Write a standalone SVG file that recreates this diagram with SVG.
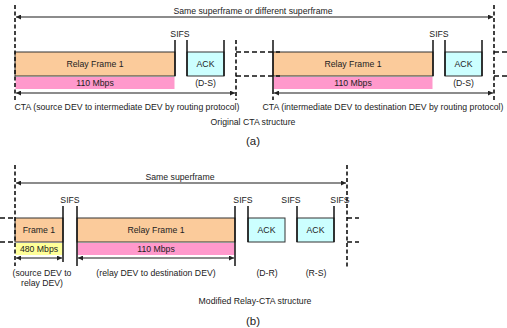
<svg xmlns="http://www.w3.org/2000/svg" width="507" height="328" viewBox="0 0 507 328">
<defs>
<marker id="ah" viewBox="0 0 6 6" refX="6" refY="3" markerWidth="5" markerHeight="5" orient="auto-start-reverse" markerUnits="userSpaceOnUse">
<path d="M0,0 L6,3 L0,6 z" fill="#222"/>
</marker>
<style>
text{font-family:"Liberation Sans",Arial,sans-serif;font-size:8.7px;fill:#222;text-anchor:middle}
.big{font-size:11.5px}
.fr{fill:#FBCB9B;stroke:#333;stroke-width:1}
.pk{fill:#FF99CC}
.ye{fill:#FFFF99}
.ak{fill:#CCFFFF;stroke:#333;stroke-width:1}
.vl{stroke:#111;stroke-width:1.5;fill:none}
.dl{stroke:#111;stroke-width:1.6;fill:none;stroke-dasharray:4,2.5}
.dh{stroke:#111;stroke-width:1.3;fill:none;stroke-dasharray:5,3}
.ar{stroke:#666;stroke-width:1.5;fill:none;marker-start:url(#ah);marker-end:url(#ah)}
</style>
</defs>

<!-- (a) -->
<g id="a-frame1">
<rect class="fr" x="15" y="52" width="160" height="24"/>
<rect class="pk" x="15.5" y="77" width="159" height="12"/>
<text x="95" y="67">Relay Frame 1</text>
<text x="95" y="86">110 Mbps</text>
</g>
<g id="a-ack1">
<rect class="ak" x="187" y="52" width="37" height="24"/>
<text x="205.5" y="67">ACK</text>
<text x="205.5" y="86">(D-S)</text>
</g>
<g id="a-frame2">
<rect class="fr" x="273" y="52" width="160" height="24"/>
<rect class="pk" x="273.5" y="77" width="159" height="12"/>
<text x="353" y="67">Relay Frame 1</text>
<text x="353" y="86">110 Mbps</text>
</g>
<g id="a-ack2">
<rect class="ak" x="445" y="52" width="37" height="24"/>
<text x="463.5" y="67">ACK</text>
<text x="463.5" y="86">(D-S)</text>
</g>
<g id="a-labels">
<text x="253" y="14">Same superframe or different superframe</text>
<text x="180" y="37">SIFS</text>
<text x="439" y="37">SIFS</text>
<text x="127" y="110">CTA (source DEV to intermediate DEV by routing protocol)</text>
<text x="383" y="110">CTA (intermediate DEV to destination DEV by routing protocol)</text>
<text x="253" y="125">Original CTA structure</text>
<text class="big" x="253" y="145">(a)</text>
</g>

<!-- (b) -->
<g id="b-frame1">
<rect class="fr" x="15" y="218" width="48" height="24"/>
<rect class="ye" x="15.5" y="243" width="47" height="12"/>
<text x="39" y="233">Frame 1</text>
<text x="39" y="252">480 Mbps</text>
<text x="42" y="276">(source DEV to</text>
<text x="42" y="286">relay DEV)</text>
</g>
<g id="b-relay">
<rect class="fr" x="77" y="218" width="158" height="24"/>
<rect class="pk" x="77.5" y="243" width="157" height="12"/>
<text x="156" y="233">Relay Frame 1</text>
<text x="156" y="252">110 Mbps</text>
<text x="156" y="276">(relay DEV to destination DEV)</text>
</g>
<g id="b-ack1">
<rect class="ak" x="248" y="218" width="37" height="24"/>
<text x="266.5" y="233">ACK</text>
<text x="267" y="276">(D-R)</text>
</g>
<g id="b-ack2">
<rect class="ak" x="297" y="218" width="37" height="24"/>
<text x="315.5" y="233">ACK</text>
<text x="316" y="276">(R-S)</text>
</g>
<g id="b-labels">
<text x="180" y="180">Same superframe</text>
<text x="70" y="203">SIFS</text>
<text x="243" y="203">SIFS</text>
<text x="291" y="203">SIFS</text>
<text x="340" y="203">SIFS</text>
<text x="255" y="304">Modified Relay-CTA structure</text>
<text class="big" x="253" y="325">(b)</text>
</g>

<g id="connectors">
<!-- (a) boundaries -->
<line class="dl" x1="15" y1="5" x2="15" y2="100"/>
<line class="vl" x1="175" y1="40" x2="175" y2="76"/>
<polyline class="vl" points="187,40 187,76"/>
<polyline class="vl" points="224,40 224,76"/>
<line class="dl" x1="236" y1="40" x2="236" y2="100"/>
<line class="dh" x1="236" y1="52" x2="280" y2="52"/>
<line class="dh" x1="236" y1="76" x2="280" y2="76"/>
<line class="vl" x1="273" y1="40" x2="273" y2="90"/>
<line class="dl" x1="273" y1="90" x2="273" y2="100"/>
<line class="vl" x1="433" y1="40" x2="433" y2="76"/>
<polyline class="vl" points="445,40 445,76"/>
<polyline class="vl" points="482,40 482,76"/>
<line class="dl" x1="494" y1="5" x2="494" y2="100"/>
<line class="dh" x1="494" y1="52" x2="507" y2="52"/>
<line class="dh" x1="494" y1="76" x2="507" y2="76"/>
<line class="ar" x1="16" y1="17" x2="493" y2="17"/>
<line class="ar" x1="16" y1="93" x2="235" y2="93"/>
<line class="ar" x1="274" y1="93" x2="493" y2="93"/>

<!-- (b) boundaries -->
<line class="dl" x1="15" y1="165" x2="15" y2="266"/>
<line class="dh" x1="0" y1="218" x2="15" y2="218"/>
<line class="dh" x1="0" y1="242" x2="15" y2="242"/>
<line class="vl" x1="63" y1="206" x2="63" y2="262"/>
<line class="vl" x1="77" y1="206" x2="77" y2="266"/>
<line class="vl" x1="235" y1="206" x2="235" y2="266"/>
<line class="vl" x1="248" y1="206" x2="248" y2="242"/>
<line class="vl" x1="297" y1="206" x2="297" y2="242"/>
<line class="vl" x1="334" y1="206" x2="334" y2="242"/>
<line class="dl" x1="347" y1="165" x2="347" y2="267"/>
<line class="dh" x1="347" y1="218" x2="359" y2="218"/>
<line class="dh" x1="347" y1="242" x2="359" y2="242"/>
<line class="ar" x1="16" y1="183" x2="346" y2="183"/>
<line class="ar" x1="16" y1="258" x2="62" y2="258"/>
<line class="ar" x1="78" y1="258" x2="234" y2="258"/>
</g>
</svg>
